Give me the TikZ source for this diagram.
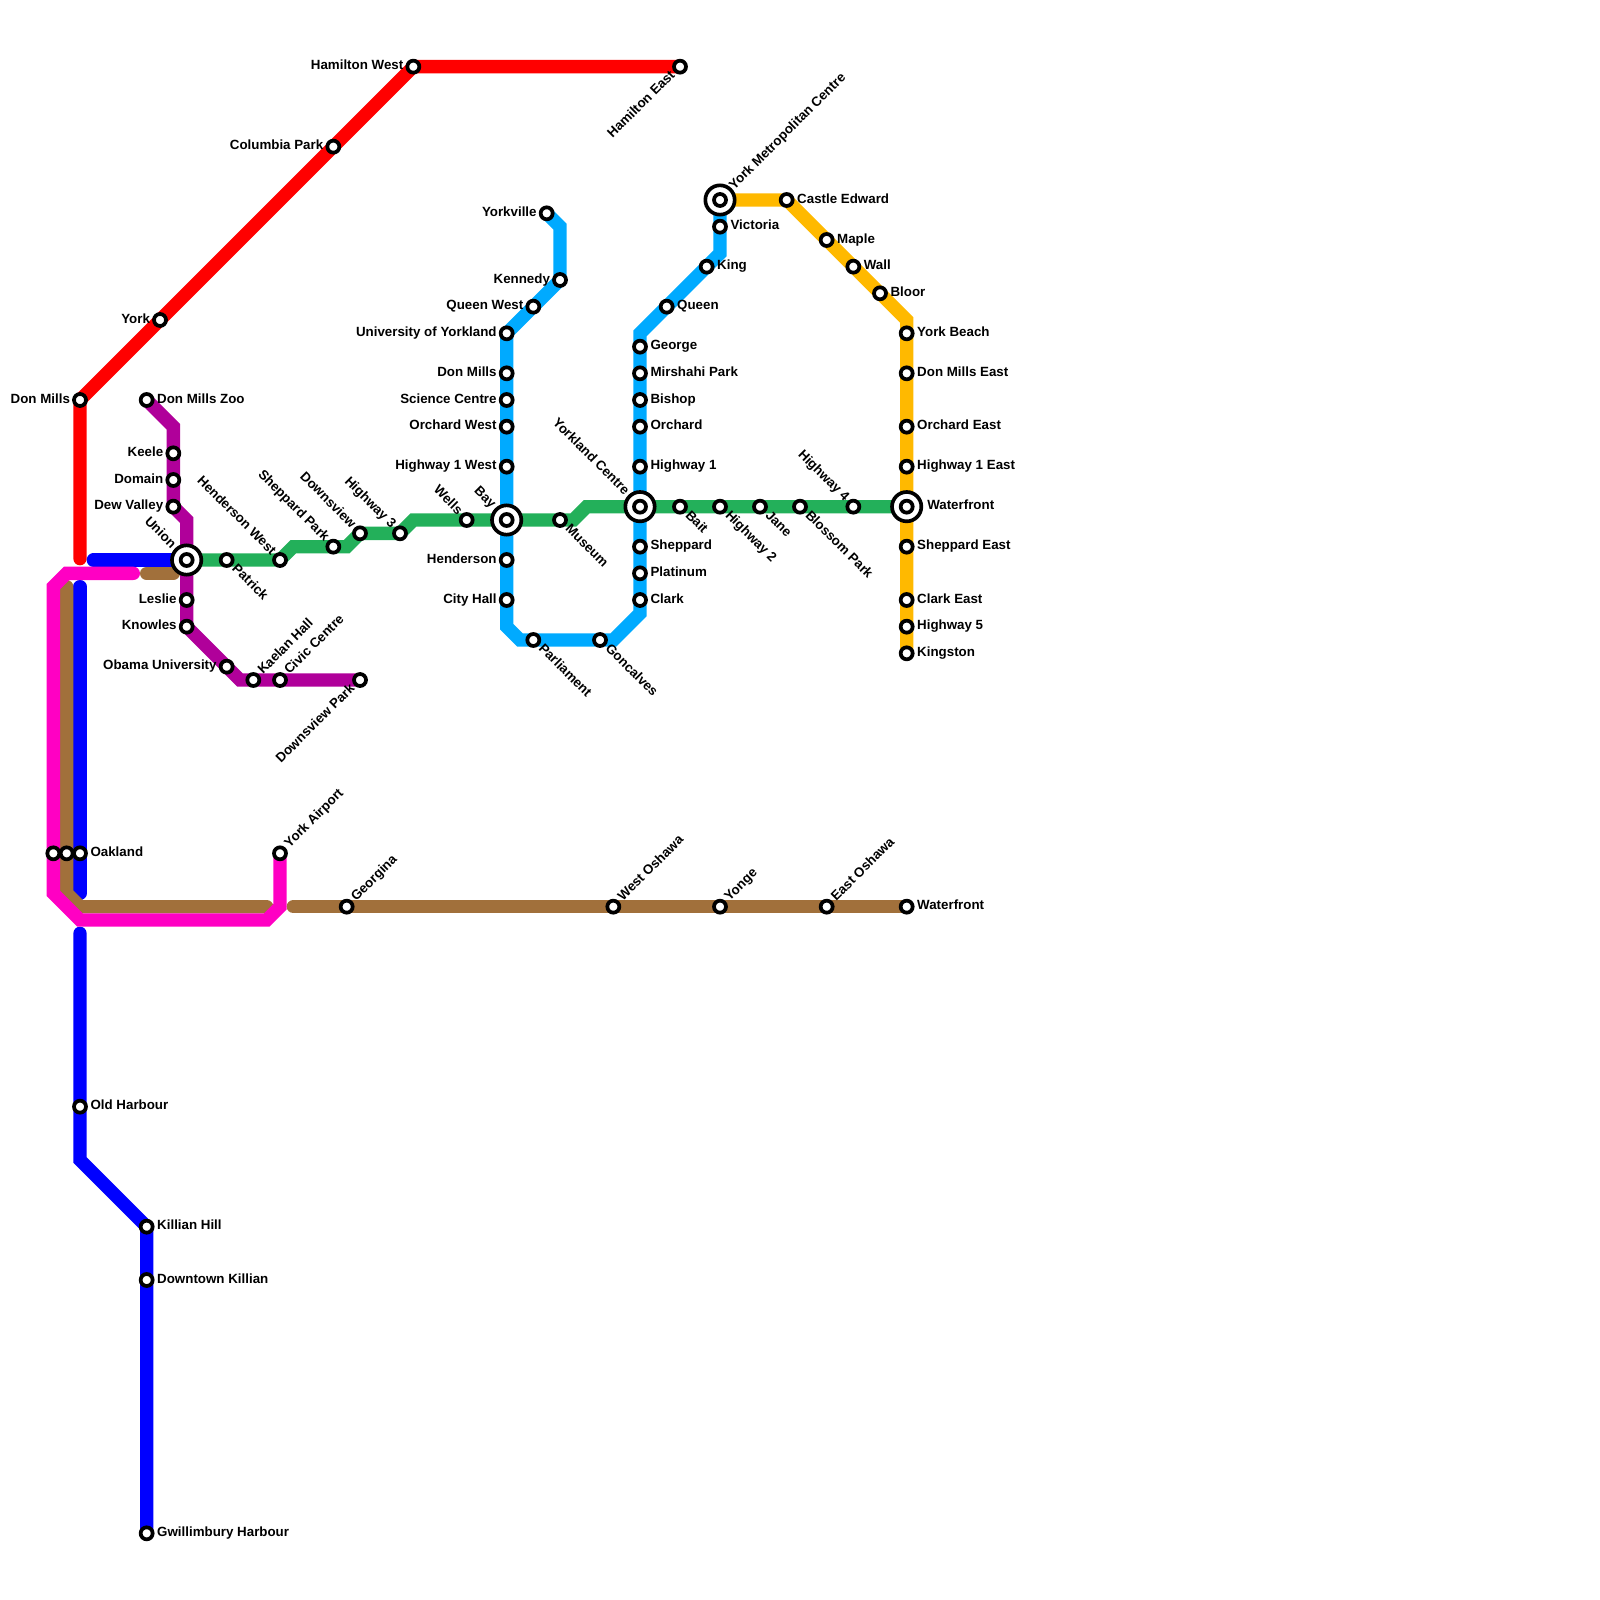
\documentclass[tikz,border=0pt]{standalone}
\usepackage{fontspec}
\setmainfont{Liberation Sans}
\usepackage{xcolor}
\usetikzlibrary{positioning,calc}
\pgfdeclarelayer{lines}
\pgfsetlayers{lines,main}
\definecolor{lred}{HTML}{FF0000}
\definecolor{lblue}{HTML}{0000FF}
\definecolor{lpink}{HTML}{FF00C3}
\definecolor{lbrown}{HTML}{A1703B}
\definecolor{lpurple}{HTML}{B0009A}
\definecolor{lgreen}{HTML}{23B05A}
\definecolor{lsky}{HTML}{00AAFF}
\definecolor{lgold}{HTML}{FFB900}

\begin{document}
\begin{tikzpicture}[x=0.2cm, y=-0.2cm,
  stop/.style={circle, draw=black, fill=white, line width=0.056cm, minimum size=0.18cm, inner sep=0pt, outer sep=0pt},
  hub/.style={circle, draw=black, fill=white, line width=0.055cm, minimum size=0.44cm, inner sep=0pt, outer sep=0pt},
  tag/.style={font=\bfseries\fontsize{5.69pt}{6pt}\selectfont, inner sep=0pt, text height=4pt, text depth=1.2pt, text=black},
  tagr/.style={tag, anchor=west, xshift=#1},
  tagr/.default=4.3pt,
  tagl/.style={tag, anchor=east, xshift=-4.1pt},
  tagur/.style={tag, xshift=#1, yshift=#1, rotate=45, anchor=west},
  tagur/.default=3pt,
  tagdr/.style={tag, xshift=2.9pt, yshift=-2.9pt, rotate=-45, anchor=west},
  tagul/.style={tag, xshift=-#1, yshift=#1, rotate=-45, anchor=east},
  tagul/.default=2.8pt,
  tagdl/.style={tag, xshift=-2.8pt, yshift=-2.8pt, rotate=45, anchor=east},
  route/.style={line width=0.2cm, line cap=round, line join=miter}]

  \useasboundingbox (0,0) rectangle (120,120);

  % Interchanges
  \node[hub] (unionH) at (14,42) {};
  \node[hub] (bayH) at (38,39) {};
  \node[hub] (yorklandH) at (48,38) {};
  \node[hub] (metroH) at (54,15) {};
  \node[hub] (waterfrontH) at (68,38) {};

  % Red stations
  \node[stop] (hamiltonW) at (31,5) {};
  \node[stop] (hamiltonE) at (51,5) {};
  \node[stop] (columbia) at (25,11) {};
  \node[stop] (york) at (12,24) {};
  \node[stop] (donmills) at (6,30) {};
  \node[tagl] (hamiltonWT) at (hamiltonW) {Hamilton West};
  \node[tagdl] (hamiltonET) at (hamiltonE) {Hamilton East};
  \node[tagl] (columbiaT) at (columbia) {Columbia Park};
  \node[tagl] (yorkT) at (york) {York};
  \node[tagl] (donmillsT) at (donmills) {Don Mills};

  % Blue stations
  \node[stop] (oakland) at (6,64) {};
  \node[stop] (harbour) at (6,83) {};
  \node[stop] (killian) at (11,92) {};
  \node[stop] (downtown) at (11,96) {};
  \node[stop] (gwillimbury) at (11,115) {};
  \node[tagr] (oaklandT) at (oakland) {Oakland};
  \node[tagr] (harbourT) at (harbour) {Old Harbour};
  \node[tagr] (killianT) at (killian) {Killian Hill};
  \node[tagr] (downtownT) at (downtown) {Downtown Killian};
  \node[tagr] (gwillimburyT) at (gwillimbury) {Gwillimbury Harbour};

  % Pink and brown stations
  \node[stop] (pinkend) at (4,64) {};
  \node[stop] (brownend) at (5,64) {};
  \node[stop] (airport) at (21,64) {};
  \node[stop] (georgina) at (26,68) {};
  \node[stop] (oshawaW) at (46,68) {};
  \node[stop] (yonge) at (54,68) {};
  \node[stop] (oshawaE) at (62,68) {};
  \node[stop] (waterfrontS) at (68,68) {};
  \node[tagur] (airportT) at (airport) {York Airport};
  \node[tagur] (georginaT) at (georgina) {Georgina};
  \node[tagur] (oshawaWT) at (oshawaW) {West Oshawa};
  \node[tagur] (yongeT) at (yonge) {Yonge};
  \node[tagur] (oshawaET) at (oshawaE) {East Oshawa};
  \node[tagr] (waterfrontST) at (waterfrontS) {Waterfront};

  % Purple stations
  \node[stop] (zoo) at (11,30) {};
  \node[stop] (keele) at (13,34) {};
  \node[stop] (domain) at (13,36) {};
  \node[stop] (dew) at (13,38) {};
  \node[stop] (union) at (14,42) {};
  \node[stop] (leslie) at (14,45) {};
  \node[stop] (knowles) at (14,47) {};
  \node[stop] (obama) at (17,50) {};
  \node[stop] (kaelan) at (19,51) {};
  \node[stop] (civic) at (21,51) {};
  \node[stop] (dvpark) at (27,51) {};
  \node[tagr] (zooT) at (zoo) {Don Mills Zoo};
  \node[tagl] (keeleT) at (keele) {Keele};
  \node[tagl] (domainT) at (domain) {Domain};
  \node[tagl] (dewT) at (dew) {Dew Valley};
  \node[tagul=5.6pt] (unionT) at (union) {Union};
  \node[tagl] (leslieT) at (leslie) {Leslie};
  \node[tagl] (knowlesT) at (knowles) {Knowles};
  \node[tagl] (obamaT) at (obama) {Obama University};
  \node[tagur] (kaelanT) at (kaelan) {Kaelan Hall};
  \node[tagur] (civicT) at (civic) {Civic Centre};
  \node[tagdl] (dvparkT) at (dvpark) {Downsview Park};

  % Green stations
  \node[stop] (patrick) at (17,42) {};
  \node[stop] (hendersonW) at (21,42) {};
  \node[stop] (sheppardP) at (25,41) {};
  \node[stop] (downsview) at (27,40) {};
  \node[stop] (highway3) at (30,40) {};
  \node[stop] (wells) at (35,39) {};
  \node[stop] (bay) at (38,39) {};
  \node[stop] (museum) at (42,39) {};
  \node[stop] (yorkland) at (48,38) {};
  \node[stop] (bait) at (51,38) {};
  \node[stop] (highway2) at (54,38) {};
  \node[stop] (jane) at (57,38) {};
  \node[stop] (blossom) at (60,38) {};
  \node[stop] (highway4) at (64,38) {};
  \node[tagdr] (patrickT) at (patrick) {Patrick};
  \node[tagul] (hendersonWT) at (hendersonW) {Henderson West};
  \node[tagul] (sheppardPT) at (sheppardP) {Sheppard Park};
  \node[tagul] (downsviewT) at (downsview) {Downsview};
  \node[tagul] (highway3T) at (highway3) {Highway 3};
  \node[tagul] (wellsT) at (wells) {Wells};
  \node[tagul=5.6pt] (bayT) at (bay) {Bay};
  \node[tagdr] (museumT) at (museum) {Museum};
  \node[tagul=5.6pt] (yorklandT) at (yorkland) {Yorkland Centre};
  \node[tagdr] (baitT) at (bait) {Bait};
  \node[tagdr] (highway2T) at (highway2) {Highway 2};
  \node[tagdr] (janeT) at (jane) {Jane};
  \node[tagdr] (blossomT) at (blossom) {Blossom Park};
  \node[tagul] (highway4T) at (highway4) {Highway 4};

  % Sky blue stations
  \node[stop] (yorkville) at (41,16) {};
  \node[stop] (kennedy) at (42,21) {};
  \node[stop] (queenW) at (40,23) {};
  \node[stop] (university) at (38,25) {};
  \node[stop] (donmillsC) at (38,28) {};
  \node[stop] (science) at (38,30) {};
  \node[stop] (orchardW) at (38,32) {};
  \node[stop] (highway1W) at (38,35) {};
  \node[stop] (henderson) at (38,42) {};
  \node[stop] (cityhall) at (38,45) {};
  \node[stop] (parliament) at (40,48) {};
  \node[stop] (goncalves) at (45,48) {};
  \node[stop] (clark) at (48,45) {};
  \node[stop] (platinum) at (48,43) {};
  \node[stop] (sheppard) at (48,41) {};
  \node[stop] (highway1) at (48,35) {};
  \node[stop] (orchard) at (48,32) {};
  \node[stop] (bishop) at (48,30) {};
  \node[stop] (mirshahi) at (48,28) {};
  \node[stop] (george) at (48,26) {};
  \node[stop] (queen) at (50,23) {};
  \node[stop] (king) at (53,20) {};
  \node[stop] (victoria) at (54,17) {};
  \node[tagl] (yorkvilleT) at (yorkville) {Yorkville};
  \node[tagl] (kennedyT) at (kennedy) {Kennedy};
  \node[tagl] (queenWT) at (queenW) {Queen West};
  \node[tagl] (universityT) at (university) {University of Yorkland};
  \node[tagl] (donmillsCT) at (donmillsC) {Don Mills};
  \node[tagl] (scienceT) at (science) {Science Centre};
  \node[tagl] (orchardWT) at (orchardW) {Orchard West};
  \node[tagl] (highway1WT) at (highway1W) {Highway 1 West};
  \node[tagl] (hendersonT) at (henderson) {Henderson};
  \node[tagl] (cityhallT) at (cityhall) {City Hall};
  \node[tagdr] (parliamentT) at (parliament) {Parliament};
  \node[tagdr] (goncalvesT) at (goncalves) {Goncalves};
  \node[tagr] (clarkT) at (clark) {Clark};
  \node[tagr] (platinumT) at (platinum) {Platinum};
  \node[tagr] (sheppardT) at (sheppard) {Sheppard};
  \node[tagr] (highway1T) at (highway1) {Highway 1};
  \node[tagr] (orchardT) at (orchard) {Orchard};
  \node[tagr] (bishopT) at (bishop) {Bishop};
  \node[tagr] (mirshahiT) at (mirshahi) {Mirshahi Park};
  \node[tagr] (georgeT) at (george) {George};
  \node[tagr] (queenT) at (queen) {Queen};
  \node[tagr] (kingT) at (king) {King};
  \node[tagr] (victoriaT) at (victoria) {Victoria};

  % Gold stations
  \node[stop] (metro) at (54,15) {};
  \node[stop] (castle) at (59,15) {};
  \node[stop] (maple) at (62,18) {};
  \node[stop] (wall) at (64,20) {};
  \node[stop] (bloor) at (66,22) {};
  \node[stop] (beach) at (68,25) {};
  \node[stop] (donmillsE) at (68,28) {};
  \node[stop] (orchardE) at (68,32) {};
  \node[stop] (highway1E) at (68,35) {};
  \node[stop] (waterfront) at (68,38) {};
  \node[stop] (sheppardE) at (68,41) {};
  \node[stop] (clarkE) at (68,45) {};
  \node[stop] (highway5) at (68,47) {};
  \node[stop] (kingston) at (68,49) {};
  \node[tagur=5pt] (metroT) at (metro) {York Metropolitan Centre};
  \node[tagr] (castleT) at (castle) {Castle Edward};
  \node[tagr] (mapleT) at (maple) {Maple};
  \node[tagr] (wallT) at (wall) {Wall};
  \node[tagr] (bloorT) at (bloor) {Bloor};
  \node[tagr] (beachT) at (beach) {York Beach};
  \node[tagr] (donmillsET) at (donmillsE) {Don Mills East};
  \node[tagr] (orchardET) at (orchardE) {Orchard East};
  \node[tagr] (highway1ET) at (highway1E) {Highway 1 East};
  \node[tagr=8.6pt] (waterfrontT) at (waterfront) {Waterfront};
  \node[tagr] (sheppardET) at (sheppardE) {Sheppard East};
  \node[tagr] (clarkET) at (clarkE) {Clark East};
  \node[tagr] (highway5T) at (highway5) {Highway 5};
  \node[tagr] (kingstonT) at (kingston) {Kingston};

  % Free ends and bends
  \coordinate (redend) at (6,41.9);
  \coordinate (blueA) at (7,42);
  \coordinate (blueB) at (6,44);
  \coordinate (blueC) at (6,67);
  \coordinate (blueD) at (6,70);
  \coordinate (blueE) at (6,87);
  \coordinate (pinkA) at (10,43);
  \coordinate (pinkB) at (5,43);
  \coordinate (pinkC) at (4,44);
  \coordinate (pinkD) at (4,67);
  \coordinate (pinkE) at (6,69);
  \coordinate (pinkF) at (20,69);
  \coordinate (pinkG) at (21,68);
  \coordinate (brownA) at (11,43);
  \coordinate (brownB) at (13,43);
  \coordinate (brownC) at (5,44);
  \coordinate (brownD) at (5,67);
  \coordinate (brownE) at (6,68);
  \coordinate (brownF) at (20,68);
  \coordinate (brownG) at (22,68);

  % Draw the lines under the stations
  \begin{pgfonlayer}{lines}
    \draw[route, lred] (hamiltonE.center) -- (hamiltonW.center) -- (donmills.center) -- (redend);
    \draw[route, lblue] (blueA) -- (union.center);
    \draw[route, lblue] (blueB) -- (blueC);
    \draw[route, lblue] (blueD) -- (blueE) -- (killian.center) -- (gwillimbury.center);
    \draw[route, lbrown] (brownA) -- (brownB);
    \draw[route, lbrown] (brownC) -- (brownD) -- (brownE) -- (brownF);
    \draw[route, lbrown] (brownG) -- (waterfrontS.center);
    \draw[route, lpink] (pinkA) -- (pinkB) -- (pinkC) -- (pinkD) -- (pinkE) -- (pinkF) -- (pinkG) -- (airport.center);
    \coordinate (purpleA) at (13,32);
    \coordinate (purpleB) at (14,39);
    \coordinate (purpleC) at (18,51);
    \draw[route, lpurple] (zoo.center) -- (purpleA) -- (dew.center) -- (purpleB) -- (knowles.center) -- (purpleC) -- (dvpark.center);
    \coordinate (greenA) at (22,41);
    \coordinate (greenB) at (26,41);
    \coordinate (greenC) at (31,39);
    \coordinate (greenD) at (43,39);
    \coordinate (greenE) at (44,38);
    \draw[route, lgreen] (union.center) -- (hendersonW.center) -- (greenA) -- (greenB) -- (downsview.center) -- (highway3.center) -- (greenC) -- (greenD) -- (greenE) -- (waterfront.center);
    \coordinate (skyA) at (42,17);
    \coordinate (skyB) at (38,47);
    \coordinate (skyC) at (39,48);
    \coordinate (skyD) at (46,48);
    \coordinate (skyE) at (48,46);
    \coordinate (skyF) at (48,25);
    \coordinate (skyG) at (54,19);
    \draw[route, lsky] (yorkville.center) -- (skyA) -- (kennedy.center) -- (university.center) -- (skyB) -- (skyC) -- (skyD) -- (skyE) -- (skyF) -- (skyG) -- (metro.center);
    \coordinate (goldA) at (68,24);
    \draw[route, lgold] (metro.center) -- (castle.center) -- (goldA) -- (kingston.center);
  \end{pgfonlayer}
\end{tikzpicture}
\end{document}
